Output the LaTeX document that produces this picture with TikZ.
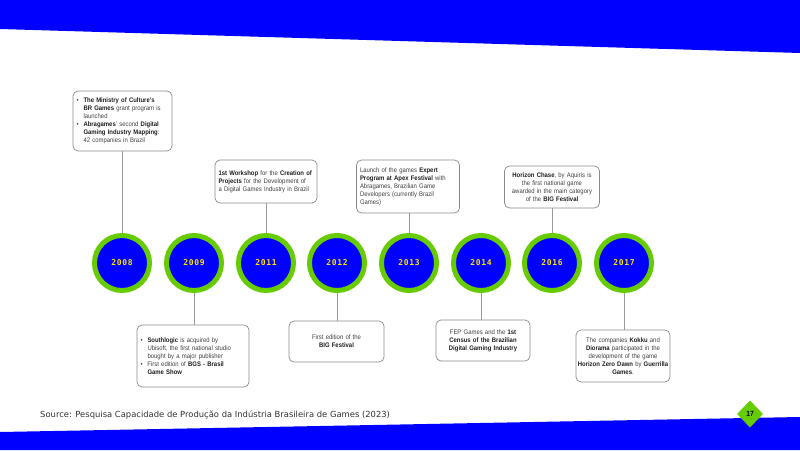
\documentclass[tikz,border=0pt]{standalone}
\usepackage{fontspec}
\setmainfont{Liberation Sans}[FakeStretch=0.9]
\newfontfamily\yearfont{DejaVu Sans Mono}[LetterSpace=8]
\newfontfamily\srcfont{DejaVu Sans}
\usetikzlibrary{shapes.geometric}
\definecolor{bandblue}{RGB}{0,0,255}
\definecolor{ringgreen}{HTML}{66CC00}
\definecolor{yeartext}{HTML}{FFE600}
\definecolor{boxline}{HTML}{8A8A8A}
\definecolor{boxtext}{HTML}{3F3F3F}
\definecolor{connline}{HTML}{9A9A9A}
\definecolor{srctext}{HTML}{333333}
\newcommand{\bb}[1]{\textbf{\color{black!88}#1}}
\newcommand{\ind}{\hspace*{7pt}}
\newcommand{\bul}{\makebox[7pt][l]{\textbullet}}
\begin{document}
\begin{tikzpicture}[x=1pt,y=-1pt,
  yearc/.style={circle, fill=bandblue, draw=ringgreen, line width=5pt,
    minimum size=55pt, inner sep=0pt, text=yeartext,
    font=\yearfont\bfseries\fontsize{8}{9}\selectfont},
  boxnode/.style={draw=boxline, rounded corners=5pt, line width=0.7pt,
    inner sep=3.5pt, text=boxtext, font=\fontsize{6.6}{8}\selectfont},
  conn/.style={draw=connline, line width=0.8pt}
]
\useasboundingbox (0,0) rectangle (800,450);
\fill[bandblue] (0,0) -- (800,0) -- (800,53) -- (0,29) -- cycle;
\fill[bandblue] (0,432) -- (800,417) -- (800,450) -- (0,450) -- cycle;

% year circles
\node[yearc] (y2008) at (122,263) {2008};
\node[yearc] (y2009) at (194,263) {2009};
\node[yearc] (y2011) at (266,263) {2011};
\node[yearc] (y2012) at (337,263) {2012};
\node[yearc] (y2013) at (409,263) {2013};
\node[yearc] (y2014) at (481,263) {2014};
\node[yearc] (y2016) at (552,263) {2016};
\node[yearc] (y2017) at (624,263) {2017};

% top boxes
\node[boxnode, text width=92pt, minimum height=60pt, align=left] (b2008) at (122.5,121)
 {\bul\bb{The Ministry of Culture's}\\
  \ind\bb{BR Games} grant program is\\
  \ind launched\\
  \bul\bb{Abragames}' second \bb{Digital}\\
  \ind\bb{Gaming Industry Mapping}:\\
  \ind 42 companies in Brazil};
\node[boxnode, text width=95pt, minimum height=43pt, align=left] (b2011) at (266,181.5)
 {\bb{1st Workshop} for the \bb{Creation of}\\
  \bb{Projects} for the Development of\\
  a Digital Games Industry in Brazil};
\node[boxnode, text width=96pt, minimum height=53pt, align=left] (b2013) at (408,186.5)
 {Launch of the games \bb{Expert}\\
  \bb{Program at Apex Festival} with\\
  Abragames, Brazilian Game\\
  Developers (currently Brazil\\
  Games)};
\node[boxnode, text width=88pt, minimum height=42pt, align=center] (b2016) at (552,187)
 {\bb{Horizon Chase}, by Aquiris is\\
  the first national game\\
  awarded in the main category\\
  of the \bb{BIG Festival}};

% bottom boxes
\node[boxnode, text width=105pt, minimum height=62pt, align=left] (b2009) at (193,356)
 {\bul\bb{Southlogic} is acquired by\\
  \ind Ubisoft, the first national studio\\
  \ind bought by a major publisher\\
  \bul First edition of \bb{BGS - Brasil}\\
  \ind\bb{Game Show}};
\node[boxnode, text width=88pt, minimum height=41pt, align=center] (b2012) at (336.5,341.5)
 {First edition of the\\
  \bb{BIG Festival}};
\node[boxnode, text width=87pt, minimum height=41pt, align=center] (b2014) at (483,340.5)
 {FEP Games and the \bb{1st}\\
  \bb{Census of the Brazilian}\\
  \bb{Digital Gaming Industry}};
\node[boxnode, text width=88pt, minimum height=52pt, inner sep=3pt, align=center] (b2017) at (623,356)
 {The companies \bb{Kokku} and\\
  \bb{Diorama} participated in the\\
  development of the game\\
  \makebox[88pt][c]{\bb{Horizon Zero Dawn} by \bb{Guerrilla}}\\
  \bb{Games}.};

% connectors
\draw[conn] (b2008.south -| y2008) -- (y2008.north);
\draw[conn] (b2011.south -| y2011) -- (y2011.north);
\draw[conn] (b2013.south -| y2013) -- (y2013.north);
\draw[conn] (b2016.south -| y2016) -- (y2016.north);
\draw[conn] (y2009.south) -- (b2009.north -| y2009);
\draw[conn] (y2012.south) -- (b2012.north -| y2012);
\draw[conn] (y2014.south) -- (b2014.north -| y2014);
\draw[conn] (y2017.south) -- (b2017.north -| y2017);

% source and page number
\node[anchor=west, inner sep=0pt, text=srctext, font=\srcfont\fontsize{8.4}{10}\selectfont] (src) at (40,415)
 {Source: Pesquisa Capacidade de Produção da Indústria Brasileira de Games (2023)};
\node[diamond, fill=ringgreen, minimum width=26pt, minimum height=27pt, inner sep=0pt,
  font=\bfseries\fontsize{7.5}{9}\selectfont, text=black!85!blue] (pg) at (750,414) {17};
\end{tikzpicture}
\end{document}
